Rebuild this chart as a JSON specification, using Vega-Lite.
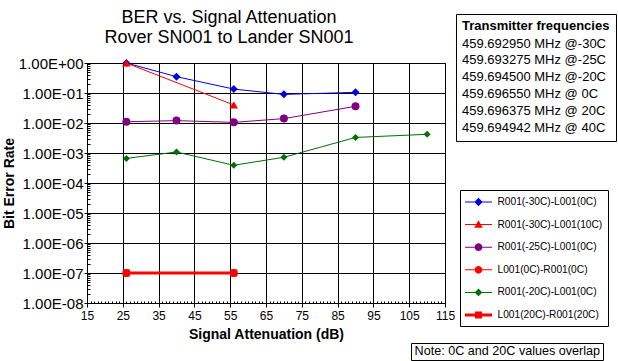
{
  "$schema": "https://vega.github.io/schema/vega-lite/v6.json",
  "width": 358,
  "height": 240,
  "autosize": {"type": "none"},
  "padding": {"left": 87, "top": 63, "right": 173, "bottom": 58},
  "background": "white",
  "config": {"view": {"stroke": "black", "strokeWidth": 1}, "font": "Liberation Sans"},
  "title": {
    "text": ["BER vs. Signal Attenuation", "Rover SN001 to Lander SN001"],
    "fontSize": 18, "fontWeight": "normal", "color": "black", "anchor": "middle",
    "frame": "group", "dx": -37, "offset": -33, "lineHeight": 19.5, "font": "Liberation Sans"
  },
  "data": {"values": [
    {"series": "R001(-30C)-L001(0C)", "x": 26, "y": 1.0},
    {"series": "R001(-30C)-L001(0C)", "x": 40, "y": 0.35},
    {"series": "R001(-30C)-L001(0C)", "x": 56, "y": 0.135},
    {"series": "R001(-30C)-L001(0C)", "x": 70, "y": 0.09},
    {"series": "R001(-30C)-L001(0C)", "x": 90, "y": 0.105},
    {"series": "R001(-30C)-L001(10C)", "x": 26, "y": 1.0},
    {"series": "R001(-30C)-L001(10C)", "x": 56, "y": 0.04},
    {"series": "R001(-25C)-L001(0C)", "x": 26, "y": 0.011},
    {"series": "R001(-25C)-L001(0C)", "x": 40, "y": 0.012},
    {"series": "R001(-25C)-L001(0C)", "x": 56, "y": 0.0105},
    {"series": "R001(-25C)-L001(0C)", "x": 70, "y": 0.014},
    {"series": "R001(-25C)-L001(0C)", "x": 90, "y": 0.036},
    {"series": "L001(0C)-R001(0C)", "x": 26, "y": 1e-7},
    {"series": "L001(0C)-R001(0C)", "x": 56, "y": 1e-7},
    {"series": "R001(-20C)-L001(0C)", "x": 26, "y": 0.00066},
    {"series": "R001(-20C)-L001(0C)", "x": 40, "y": 0.00108},
    {"series": "R001(-20C)-L001(0C)", "x": 56, "y": 0.00039},
    {"series": "R001(-20C)-L001(0C)", "x": 70, "y": 0.00072},
    {"series": "R001(-20C)-L001(0C)", "x": 90, "y": 0.0033},
    {"series": "R001(-20C)-L001(0C)", "x": 110, "y": 0.0042},
    {"series": "L001(20C)-R001(20C)", "x": 26, "y": 1e-7},
    {"series": "L001(20C)-R001(20C)", "x": 56, "y": 1e-7}
  ]},
  "resolve": {"axis": {"y": "independent", "x": "independent"}},
  "layer": [
    {
      "transform": [{"filter": "datum.series !== 'L001(20C)-R001(20C)'"}],
      "mark": {"type": "line", "strokeWidth": 1},
      "encoding": {
        "x": {"field": "x", "type": "quantitative",
          "scale": {"domain": [15, 115], "nice": false, "zero": false},
          "axis": {"values": [15, 25, 35, 45, 55, 65, 75, 85, 95, 105, 115], "grid": true,
            "gridColor": "black", "gridOpacity": 1, "tickColor": "black", "tickSize": 4,
            "domainColor": "black", "labelFontSize": 12, "labelColor": "black", "labelPadding": 3,
            "labelOverlap": false, "title": "Signal Attenuation (dB)", "titleFontSize": 14, "titleFontWeight": "bold",
            "titleColor": "black", "titlePadding": 6, "labelFlush": false}},
        "y": {"field": "y", "type": "quantitative",
          "scale": {"type": "log", "domain": [1e-8, 1], "nice": false},
          "axis": {"values": [1e-8, 1e-7, 1e-6, 1e-5, 1e-4, 1e-3, 1e-2, 1e-1, 1],
            "labelExpr": "datum.value >= 0.5 ? '1.00E+00' : '1.00E-0' + round(-log(datum.value) / LN10)",
            "grid": true, "gridColor": "black", "gridOpacity": 1, "tickColor": "black", "tickSize": 3,
            "domainColor": "black", "labelFontSize": 15, "labelColor": "black", "labelPadding": 1,
            "labelOverlap": false, "labelFlush": false, "title": "Bit Error Rate", "titleFontSize": 14, "titleFontWeight": "bold",
            "titleColor": "black", "titlePadding": 2}},
        "color": {"field": "series", "type": "nominal",
          "scale": {"domain": ["R001(-30C)-L001(0C)", "R001(-30C)-L001(10C)", "R001(-25C)-L001(0C)", "L001(0C)-R001(0C)", "R001(-20C)-L001(0C)", "L001(20C)-R001(20C)"],
            "range": ["#0000e0", "#ff0000", "#800080", "#ff0000", "#007000", "#ff0000"]}}
      }
    },
    {
      "transform": [{"filter": "datum.series === 'L001(20C)-R001(20C)'"}],
      "mark": {"type": "line", "strokeWidth": 3},
      "encoding": {
        "x": {"field": "x", "type": "quantitative", "axis": null},
        "y": {"field": "y", "type": "quantitative", "axis": null},
        "color": {"field": "series", "type": "nominal"}
      }
    },
    {
      "transform": [{"filter": "datum.series === 'R001(-30C)-L001(0C)'"}],
      "mark": {"type": "point", "shape": "diamond", "filled": true, "size": 64, "opacity": 1},
      "encoding": {
        "x": {"field": "x", "type": "quantitative", "axis": null},
        "y": {"field": "y", "type": "quantitative", "axis": null},
        "color": {"field": "series", "type": "nominal"}
      }
    },
    {
      "transform": [{"filter": "datum.series === 'R001(-20C)-L001(0C)'"}],
      "mark": {"type": "point", "shape": "diamond", "filled": true, "size": 49, "opacity": 1},
      "encoding": {
        "x": {"field": "x", "type": "quantitative", "axis": null},
        "y": {"field": "y", "type": "quantitative", "axis": null},
        "color": {"field": "series", "type": "nominal"}
      }
    },
    {
      "transform": [{"filter": "datum.series === 'R001(-30C)-L001(10C)'"}],
      "mark": {"type": "point", "shape": "triangle-up", "filled": true, "size": 70, "opacity": 1},
      "encoding": {
        "x": {"field": "x", "type": "quantitative", "axis": null},
        "y": {"field": "y", "type": "quantitative", "axis": null},
        "color": {"field": "series", "type": "nominal"}
      }
    },
    {
      "transform": [{"filter": "datum.series === 'R001(-25C)-L001(0C)' || datum.series === 'L001(0C)-R001(0C)'"}],
      "mark": {"type": "point", "shape": "circle", "filled": true, "size": 64, "opacity": 1},
      "encoding": {
        "x": {"field": "x", "type": "quantitative", "axis": null},
        "y": {"field": "y", "type": "quantitative", "axis": null},
        "color": {"field": "series", "type": "nominal"}
      }
    },
    {
      "transform": [{"filter": "datum.series === 'L001(20C)-R001(20C)'"}],
      "mark": {"type": "point", "shape": "square", "filled": true, "size": 49, "opacity": 1},
      "encoding": {
        "x": {"field": "x", "type": "quantitative", "axis": null},
        "y": {"field": "y", "type": "quantitative", "axis": null},
        "color": {"field": "series", "type": "nominal"}
      }
    },
    {
      "mark": {"type": "point", "filled": true, "opacity": 0},
      "encoding": {
        "x": {"field": "x", "type": "quantitative",
          "axis": {"orient": "top", "offset": -240, "values": [16,17,18,19,20,21,22,23,24,25,26,27,28,29,30,31,32,33,34,35,36,37,38,39,40,41,42,43,44,45,46,47,48,49,50,51,52,53,54,55,56,57,58,59,60,61,62,63,64,65,66,67,68,69,70,71,72,73,74,75,76,77,78,79,80,81,82,83,84,85,86,87,88,89,90,91,92,93,94,95,96,97,98,99,100,101,102,103,104,105,106,107,108,109,110,111,112,113,114],
            "labels": false, "domain": false, "grid": false, "tickSize": 2, "tickColor": "black", "title": null}},
        "y": {"field": "y", "type": "quantitative",
          "axis": {"orient": "right", "offset": -358, "values": [2e-8,3e-8,4e-8,5e-8,6e-8,7e-8,8e-8,9e-8,2e-7,3e-7,4e-7,5e-7,6e-7,7e-7,8e-7,9e-7,2e-6,3e-6,4e-6,5e-6,6e-6,7e-6,8e-6,9e-6,2e-5,3e-5,4e-5,5e-5,6e-5,7e-5,8e-5,9e-5,2e-4,3e-4,4e-4,5e-4,6e-4,7e-4,8e-4,9e-4,2e-3,3e-3,4e-3,5e-3,6e-3,7e-3,8e-3,9e-3,2e-2,3e-2,4e-2,5e-2,6e-2,7e-2,8e-2,9e-2,2e-1,3e-1,4e-1,5e-1,6e-1,7e-1,8e-1,9e-1],
            "labels": false, "domain": false, "grid": false, "tickSize": 3, "tickColor": "black", "title": null}},
        "color": {"field": "series", "type": "nominal",
          "scale": {"domain": ["R001(-30C)-L001(0C)", "R001(-30C)-L001(10C)", "R001(-25C)-L001(0C)", "L001(0C)-R001(0C)", "R001(-20C)-L001(0C)", "L001(20C)-R001(20C)"],
            "range": ["#0000e0", "#ff0000", "#800080", "#ff0000", "#007000", "#ff0000"]},
          "legend": {"orient": "none", "legendX": 373, "legendY": 127, "title": null,
            "strokeColor": "black", "fillColor": "white", "padding": 5,
            "symbolSize": 196, "symbolStrokeWidth": 0, "symbolOpacity": 1, "symbolOffset": 6.5,
            "labelOffset": 12, "labelFontSize": 10.2, "labelColor": "black", "rowPadding": 9.6, "labelLimit": 300}},
        "shape": {"field": "series", "type": "nominal",
          "scale": {"domain": ["R001(-30C)-L001(0C)", "R001(-30C)-L001(10C)", "R001(-25C)-L001(0C)", "L001(0C)-R001(0C)", "R001(-20C)-L001(0C)", "L001(20C)-R001(20C)"],
            "range": [
              "M-1.93,-0.07H1.93V0.07H-1.93ZM0,-0.6L0.6,0L0,0.6L-0.6,0Z",
              "M-1.93,-0.07H1.93V0.07H-1.93ZM0,-0.62L0.6,0.45L-0.6,0.45Z",
              "M-1.93,-0.07H1.93V0.07H-1.93ZM-0.55,0A0.55,0.55,0,1,1,0.55,0A0.55,0.55,0,1,1,-0.55,0Z",
              "M-1.93,-0.07H1.93V0.07H-1.93ZM-0.55,0A0.55,0.55,0,1,1,0.55,0A0.55,0.55,0,1,1,-0.55,0Z",
              "M-1.93,-0.07H1.93V0.07H-1.93ZM0,-0.55L0.55,0L0,0.55L-0.55,0Z",
              "M-1.93,-0.21H1.93V0.21H-1.93ZM-0.5,-0.5H0.5V0.5H-0.5Z"
            ]},
          "legend": {"orient": "none", "legendX": 373, "legendY": 127, "title": null,
            "strokeColor": "black", "fillColor": "white", "padding": 5,
            "symbolSize": 196, "symbolStrokeWidth": 0, "symbolOpacity": 1, "symbolOffset": 6.5,
            "labelOffset": 12, "labelFontSize": 10.2, "labelColor": "black", "rowPadding": 9.6, "labelLimit": 300}}
      }
    },
    {
      "data": {"values": [
        {"freq": "459.692950 MHz @-30C"},
        {"freq": "459.693275 MHz @-25C"},
        {"freq": "459.694500 MHz @-20C"},
        {"freq": "459.696550 MHz @ 0C"},
        {"freq": "459.696375 MHz @ 20C"},
        {"freq": "459.694942 MHz @ 40C"}
      ]},
      "mark": {"type": "point", "opacity": 0},
      "encoding": {
        "stroke": {"field": "freq", "type": "nominal",
          "scale": {"domain": ["459.692950 MHz @-30C", "459.693275 MHz @-25C", "459.694500 MHz @-20C", "459.696550 MHz @ 0C", "459.696375 MHz @ 20C", "459.694942 MHz @ 40C"], "range": ["black"]},
          "legend": {"orient": "none", "legendX": 369, "legendY": -49, "title": "Transmitter frequencies",
            "titleFontSize": 13, "titleFontWeight": "bold", "titleColor": "black", "titlePadding": 4,
            "strokeColor": "black", "fillColor": "white", "padding": 6,
            "symbolSize": 0, "symbolOpacity": 0, "symbolStrokeWidth": 0, "labelOffset": -13,
            "labelFontSize": 13, "labelColor": "black", "rowPadding": 2.8, "labelLimit": 300}}
      }
    },
    {
      "data": {"values": [{"note": "Note: 0C and 20C values overlap"}]},
      "mark": {"type": "point", "opacity": 0, "filled": true},
      "encoding": {
        "fill": {"field": "note", "type": "nominal", "scale": {"range": ["white"]},
          "legend": {"orient": "none", "legendX": 324, "legendY": 280, "title": null,
            "strokeColor": "black", "fillColor": "white", "padding": 2,
            "symbolSize": 0, "symbolOpacity": 0, "symbolStrokeWidth": 0, "labelOffset": -11,
            "labelFontSize": 12.6, "labelColor": "black", "labelLimit": 300}}
      }
    }
  ]
}
